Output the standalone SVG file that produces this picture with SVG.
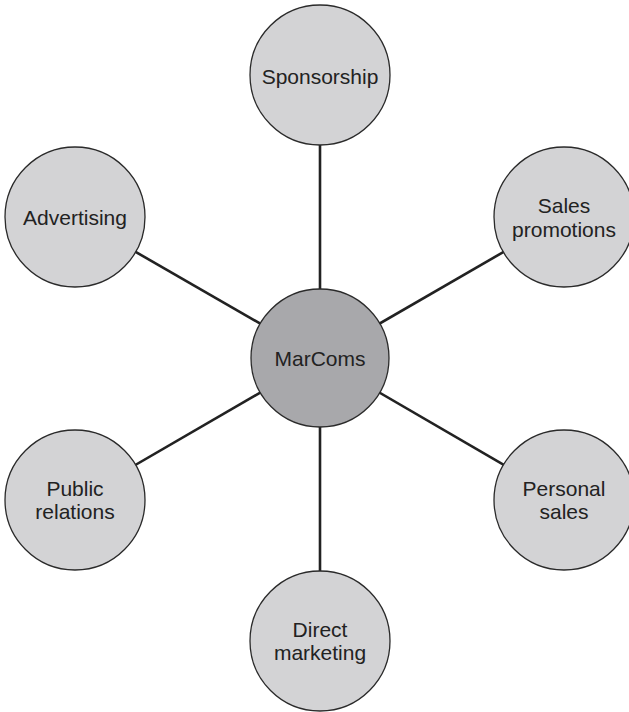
<svg xmlns="http://www.w3.org/2000/svg" width="629" height="712" viewBox="0 0 629 712">
<style>
.n{fill:#d3d3d5;stroke:#2a2a2a;stroke-width:1.3}
.c{fill:#a8a8ab;stroke:#2a2a2a;stroke-width:1.3}
.t{font-family:"Liberation Sans",Arial,sans-serif;font-size:21px;fill:#222;text-anchor:middle}
.e{stroke:#222;stroke-width:2.6}
</style>
<rect width="629" height="712" fill="#fff"/>
<g id="connectors">
<line class="e" x1="320" y1="358" x2="320" y2="75"/>
<line class="e" x1="320" y1="358" x2="75" y2="217"/>
<line class="e" x1="320" y1="358" x2="564" y2="217"/>
<line class="e" x1="320" y1="358" x2="75" y2="500"/>
<line class="e" x1="320" y1="358" x2="564" y2="500"/>
<line class="e" x1="320" y1="358" x2="320" y2="641"/>
</g>
<g id="sponsorship"><circle class="n" cx="320" cy="75" r="70"/><text class="t" x="320" y="84">Sponsorship</text></g>
<g id="advertising"><circle class="n" cx="75" cy="217" r="70"/><text class="t" x="75" y="225">Advertising</text></g>
<g id="sales-promotions"><circle class="n" cx="564" cy="217" r="70"/><text class="t" x="564" y="213">Sales</text><text class="t" x="564" y="237">promotions</text></g>
<g id="marcoms"><circle class="c" cx="320" cy="358" r="69"/><text class="t" x="320" y="366">MarComs</text></g>
<g id="public-relations"><circle class="n" cx="75" cy="500" r="70"/><text class="t" x="75" y="496">Public</text><text class="t" x="75" y="519">relations</text></g>
<g id="personal-sales"><circle class="n" cx="564" cy="500" r="70"/><text class="t" x="564" y="496">Personal</text><text class="t" x="564" y="519">sales</text></g>
<g id="direct-marketing"><circle class="n" cx="320" cy="641" r="70"/><text class="t" x="320" y="637">Direct</text><text class="t" x="320" y="660">marketing</text></g>
</svg>
